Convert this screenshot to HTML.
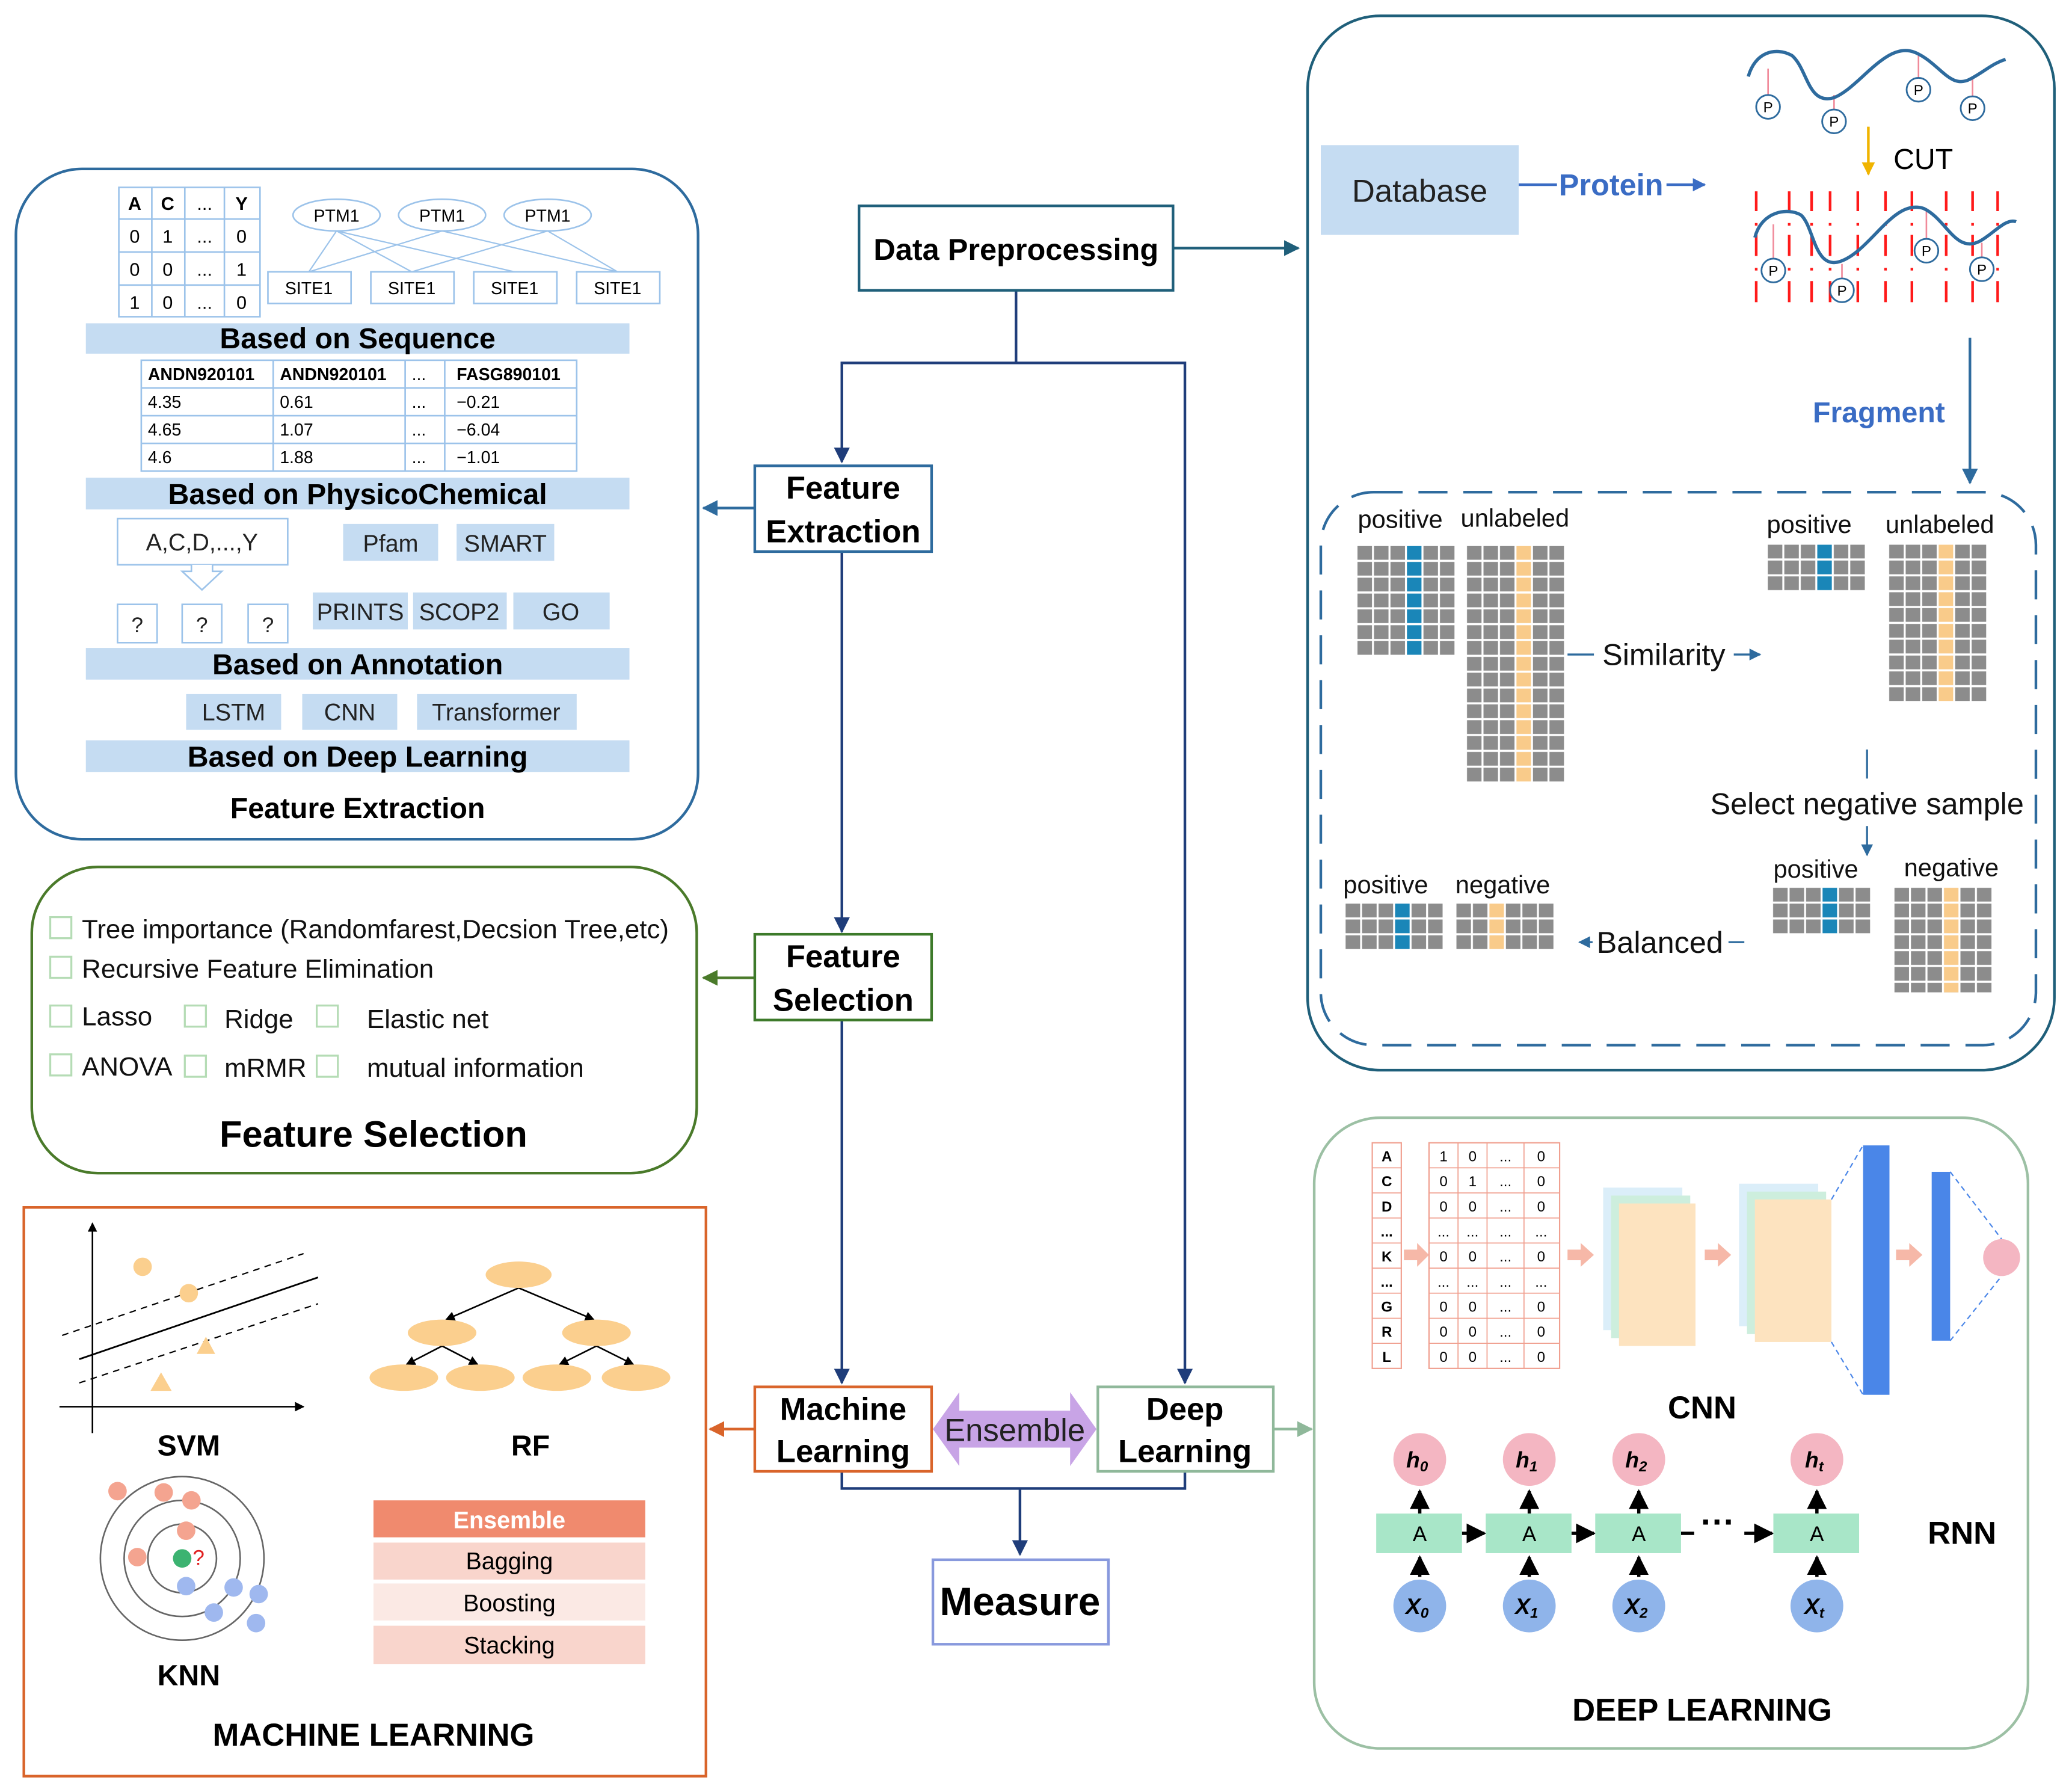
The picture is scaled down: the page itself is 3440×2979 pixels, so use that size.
<!DOCTYPE html>
<html><head><meta charset="utf-8"><style>
html,body{margin:0;padding:0;background:#fff}
svg{display:block}
text{font-family:"Liberation Sans",sans-serif}
</style></head><body>
<svg xmlns="http://www.w3.org/2000/svg" width="3440" height="2979" viewBox="0 0 1568 1358">
<defs>
<pattern id="gg" width="12.5" height="12" patternUnits="userSpaceOnUse"><rect width="12.5" height="12" fill="#fff"/><rect x="0.8" y="0.8" width="11" height="10.4" fill="#8c8c8c"/></pattern>
<pattern id="bb" width="12.5" height="12" patternUnits="userSpaceOnUse"><rect width="12.5" height="12" fill="#fff"/><rect x="0.8" y="0.8" width="11" height="10.4" fill="#1a86b8"/></pattern>
<pattern id="oo" width="12.5" height="12" patternUnits="userSpaceOnUse"><rect width="12.5" height="12" fill="#fff"/><rect x="0.8" y="0.8" width="11" height="10.4" fill="#f9cb8a"/></pattern>
<marker id="ab" viewBox="0 0 10 10" refX="9" refY="5" markerWidth="6" markerHeight="6" orient="auto"><path d="M0,0L10,5L0,10z" fill="#1f3d7a"/></marker>
<marker id="at" viewBox="0 0 10 10" refX="9" refY="5" markerWidth="6" markerHeight="6" orient="auto"><path d="M0,0L10,5L0,10z" fill="#1f5f7a"/></marker>
<marker id="abl" viewBox="0 0 10 10" refX="9" refY="5" markerWidth="6" markerHeight="6" orient="auto"><path d="M0,0L10,5L0,10z" fill="#2e6b9e"/></marker>
<marker id="agr" viewBox="0 0 10 10" refX="9" refY="5" markerWidth="6" markerHeight="6" orient="auto"><path d="M0,0L10,5L0,10z" fill="#4a7a2a"/></marker>
<marker id="aor" viewBox="0 0 10 10" refX="9" refY="5" markerWidth="6" markerHeight="6" orient="auto"><path d="M0,0L10,5L0,10z" fill="#d9642a"/></marker>
<marker id="agg" viewBox="0 0 10 10" refX="9" refY="5" markerWidth="6" markerHeight="6" orient="auto"><path d="M0,0L10,5L0,10z" fill="#8fb89a"/></marker>
<marker id="ak" viewBox="0 0 10 10" refX="9" refY="5" markerWidth="6" markerHeight="6" orient="auto"><path d="M0,0L10,5L0,10z" fill="#000"/></marker>
<marker id="ap" viewBox="0 0 10 10" refX="9" refY="5" markerWidth="5" markerHeight="5" orient="auto"><path d="M0,0L10,5L0,10z" fill="#3a6cc4"/></marker>
<marker id="ay" viewBox="0 0 10 10" refX="9" refY="5" markerWidth="5" markerHeight="5" orient="auto"><path d="M0,0L10,5L0,10z" fill="#f0b400"/></marker>
<g id="cl"><line x1="0" y1="145" x2="0" y2="160"/><line x1="0" y1="178" x2="0" y2="194"/><line x1="0" y1="213" x2="0" y2="229"/><line x1="0" y1="169" x2="0" y2="171"/><line x1="0" y1="203" x2="0" y2="205"/></g>
</defs>

<!-- ===== Feature Extraction panel ===== -->
<rect x="12" y="128" width="517" height="508" rx="50" fill="none" stroke="#2e6b9e" stroke-width="2"/>
<g stroke="#9cc3ea" stroke-width="1.2" fill="none">
<rect x="90" y="142" width="107" height="98"/>
<line x1="90" y1="166" x2="197" y2="166"/><line x1="90" y1="191" x2="197" y2="191"/><line x1="90" y1="216" x2="197" y2="216"/>
<line x1="115" y1="142" x2="115" y2="240"/><line x1="140" y1="142" x2="140" y2="240"/><line x1="170" y1="142" x2="170" y2="240"/>
</g>
<g font-size="14" text-anchor="middle">
<text x="102" y="159" font-weight="bold">A</text><text x="127" y="159" font-weight="bold">C</text><text x="155" y="159">...</text><text x="183" y="159" font-weight="bold">Y</text>
<text x="102" y="184">0</text><text x="127" y="184">1</text><text x="155" y="184">...</text><text x="183" y="184">0</text>
<text x="102" y="209">0</text><text x="127" y="209">0</text><text x="155" y="209">...</text><text x="183" y="209">1</text>
<text x="102" y="234">1</text><text x="127" y="234">0</text><text x="155" y="234">...</text><text x="183" y="234">0</text>
</g>
<g stroke="#9cc3ea" stroke-width="1">
<line x1="255" y1="175" x2="234" y2="206"/><line x1="255" y1="175" x2="312" y2="206"/><line x1="255" y1="175" x2="390" y2="206"/>
<line x1="335" y1="175" x2="234" y2="206"/><line x1="335" y1="175" x2="468" y2="206"/>
<line x1="415" y1="175" x2="312" y2="206"/><line x1="415" y1="175" x2="468" y2="206"/>
</g>
<g fill="#fff" stroke="#9cc3ea" stroke-width="1.2">
<ellipse cx="255" cy="163" rx="33" ry="12"/><ellipse cx="335" cy="163" rx="33" ry="12"/><ellipse cx="415" cy="163" rx="33" ry="12"/>
<rect x="203" y="206" width="63" height="24"/><rect x="281" y="206" width="63" height="24"/><rect x="359" y="206" width="63" height="24"/><rect x="437" y="206" width="63" height="24"/>
</g>
<g font-size="13" text-anchor="middle">
<text x="255" y="168">PTM1</text><text x="335" y="168">PTM1</text><text x="415" y="168">PTM1</text>
<text x="234" y="223">SITE1</text><text x="312" y="223">SITE1</text><text x="390" y="223">SITE1</text><text x="468" y="223">SITE1</text>
</g>
<g fill="#c5dcf2">
<rect x="65" y="245" width="412" height="23"/><rect x="65" y="362" width="412" height="24"/><rect x="65" y="491" width="412" height="24"/><rect x="65" y="561" width="412" height="24"/>
</g>
<g font-size="22" font-weight="bold" text-anchor="middle">
<text x="271" y="264">Based on Sequence</text><text x="271" y="382">Based on PhysicoChemical</text>
<text x="271" y="511">Based on Annotation</text><text x="271" y="581">Based on Deep Learning</text>
<text x="271" y="620">Feature Extraction</text>
</g>
<g stroke="#9cc3ea" stroke-width="1.2" fill="none">
<rect x="107" y="273" width="330" height="84"/>
<line x1="107" y1="294" x2="437" y2="294"/><line x1="107" y1="315" x2="437" y2="315"/><line x1="107" y1="336" x2="437" y2="336"/>
<line x1="207" y1="273" x2="207" y2="357"/><line x1="307" y1="273" x2="307" y2="357"/><line x1="337" y1="273" x2="337" y2="357"/>
</g>
<g font-size="13">
<text x="112" y="288" font-weight="bold">ANDN920101</text><text x="212" y="288" font-weight="bold">ANDN920101</text><text x="312" y="288">...</text><text x="346" y="288" font-weight="bold">FASG890101</text>
<text x="112" y="309">4.35</text><text x="212" y="309">0.61</text><text x="312" y="309">...</text><text x="346" y="309">−0.21</text>
<text x="112" y="330">4.65</text><text x="212" y="330">1.07</text><text x="312" y="330">...</text><text x="346" y="330">−6.04</text>
<text x="112" y="351">4.6</text><text x="212" y="351">1.88</text><text x="312" y="351">...</text><text x="346" y="351">−1.01</text>
</g>
<rect x="89" y="393" width="129" height="35" fill="#fff" stroke="#9cc3ea" stroke-width="1.2"/>
<path d="M145,428 L145,433 L138,433 L153,447 L168,433 L161,433 L161,428" fill="#fff" stroke="#9cc3ea" stroke-width="1.2"/>
<g fill="#fff" stroke="#9cc3ea" stroke-width="1.2">
<rect x="89" y="458" width="30" height="29"/><rect x="138" y="458" width="30" height="29"/><rect x="188" y="458" width="30" height="29"/>
</g>
<g fill="#c5dcf2">
<rect x="260" y="397" width="72" height="28"/><rect x="346" y="397" width="74" height="28"/>
<rect x="237" y="449" width="72" height="28"/><rect x="313" y="449" width="71" height="28"/><rect x="389" y="449" width="73" height="28"/>
<rect x="141" y="526" width="72" height="27"/><rect x="229" y="526" width="72" height="27"/><rect x="316" y="526" width="121" height="27"/>
</g>
<g font-size="18" text-anchor="middle" fill="#222">
<text x="153" y="417">A,C,D,...,Y</text><text x="296" y="418">Pfam</text><text x="383" y="418">SMART</text>
<text x="104" y="479" font-size="16">?</text><text x="153" y="479" font-size="16">?</text><text x="203" y="479" font-size="16">?</text>
<text x="273" y="470">PRINTS</text><text x="348" y="470">SCOP2</text><text x="425" y="470">GO</text>
<text x="177" y="546">LSTM</text><text x="265" y="546">CNN</text><text x="376" y="546">Transformer</text>
</g>

<!-- ===== Feature Selection panel ===== -->
<rect x="24" y="657" width="504" height="232" rx="50" fill="none" stroke="#4a7a2a" stroke-width="2"/>
<g fill="none" stroke="#b5dcb5" stroke-width="1.5">
<rect x="38" y="695" width="16" height="16"/><rect x="38" y="725" width="16" height="16"/>
<rect x="38" y="762" width="16" height="16"/><rect x="140" y="762" width="16" height="16"/><rect x="240" y="762" width="16" height="16"/>
<rect x="38" y="799" width="16" height="16"/><rect x="140" y="800" width="16" height="16"/><rect x="240" y="800" width="16" height="16"/>
</g>
<g font-size="20" fill="#111">
<text x="62" y="711">Tree importance (Randomfarest,Decsion Tree,etc)</text>
<text x="62" y="741">Recursive Feature Elimination</text>
<text x="62" y="777">Lasso</text><text x="170" y="779">Ridge</text><text x="278" y="779">Elastic net</text>
<text x="62" y="815">ANOVA</text><text x="170" y="816">mRMR</text><text x="278" y="816">mutual information</text>
</g>
<text x="283" y="869" font-size="28" font-weight="bold" text-anchor="middle">Feature Selection</text>

<!-- ===== Machine Learning panel ===== -->
<rect x="18" y="915" width="517" height="431" fill="none" stroke="#d9642a" stroke-width="2"/>
<line x1="70" y1="1086" x2="70" y2="927" stroke="#000" stroke-width="1.2" marker-end="url(#ak)"/>
<line x1="45" y1="1066" x2="230" y2="1066" stroke="#000" stroke-width="1.2" marker-end="url(#ak)"/>
<line x1="60" y1="1030" x2="241" y2="968" stroke="#000" stroke-width="1.3"/>
<line x1="47" y1="1012" x2="230" y2="950" stroke="#000" stroke-width="1" stroke-dasharray="5,4"/>
<line x1="60" y1="1048" x2="241" y2="988" stroke="#000" stroke-width="1" stroke-dasharray="5,4"/>
<circle cx="108" cy="960" r="7" fill="#fbcf8e"/><circle cx="143" cy="980" r="7" fill="#fbcf8e"/>
<path d="M156,1013 L163,1026 L149,1026z" fill="#fbcf8e"/><path d="M122,1040 L130,1054 L114,1054z" fill="#fbcf8e"/>
<text x="143" y="1103" font-size="22" font-weight="bold" text-anchor="middle">SVM</text>
<g stroke="#000" stroke-width="1.2" marker-end="url(#ak)">
<line x1="393" y1="976" x2="338" y2="1000"/><line x1="393" y1="976" x2="450" y2="1000"/>
<line x1="335" y1="1020" x2="308" y2="1034"/><line x1="335" y1="1020" x2="362" y2="1034"/>
<line x1="452" y1="1020" x2="424" y2="1034"/><line x1="452" y1="1020" x2="480" y2="1034"/>
</g>
<g fill="#fbcf8e">
<ellipse cx="393" cy="966" rx="25" ry="10"/><ellipse cx="335" cy="1010" rx="26" ry="10"/><ellipse cx="452" cy="1010" rx="26" ry="10"/>
<ellipse cx="306" cy="1044" rx="26" ry="10"/><ellipse cx="364" cy="1044" rx="26" ry="10"/><ellipse cx="422" cy="1044" rx="26" ry="10"/><ellipse cx="482" cy="1044" rx="26" ry="10"/>
</g>
<text x="402" y="1103" font-size="22" font-weight="bold" text-anchor="middle">RF</text>
<g fill="none" stroke="#666" stroke-width="1.2">
<circle cx="138" cy="1181" r="26"/><circle cx="138" cy="1181" r="44"/><circle cx="138" cy="1181" r="62"/>
</g>
<g fill="#f4a490"><circle cx="89" cy="1130" r="7"/><circle cx="124" cy="1131" r="7"/><circle cx="145" cy="1137" r="7"/><circle cx="104" cy="1180" r="7"/><circle cx="141" cy="1160" r="7"/></g>
<g fill="#9fb8ef"><circle cx="141" cy="1202" r="7"/><circle cx="162" cy="1222" r="7"/><circle cx="177" cy="1203" r="7"/><circle cx="196" cy="1208" r="7"/><circle cx="194" cy="1230" r="7"/></g>
<circle cx="138" cy="1181" r="7" fill="#3cb371"/>
<text x="146" y="1186" font-size="16" fill="#e02020">?</text>
<text x="143" y="1277" font-size="22" font-weight="bold" text-anchor="middle">KNN</text>
<rect x="283" y="1137" width="206" height="28" fill="#f08a6e"/>
<rect x="283" y="1169" width="206" height="28" fill="#f9d5cc"/>
<rect x="283" y="1200" width="206" height="28" fill="#fbe9e4"/>
<rect x="283" y="1232" width="206" height="29" fill="#f9d5cc"/>
<g font-size="18" text-anchor="middle">
<text x="386" y="1158" fill="#fff" font-weight="bold">Ensemble</text>
<text x="386" y="1189">Bagging</text><text x="386" y="1221">Boosting</text><text x="386" y="1253">Stacking</text>
</g>
<text x="283" y="1323" font-size="24" font-weight="bold" text-anchor="middle">MACHINE LEARNING</text>

<!-- ===== Central flow ===== -->
<g fill="none" stroke="#1f3d7a" stroke-width="2">
<polyline points="770,220 770,275 638,275 638,350" marker-end="url(#ab)"/>
<polyline points="770,275 898,275 898,1048" marker-end="url(#ab)"/>
<line x1="638" y1="418" x2="638" y2="706" marker-end="url(#ab)"/>
<line x1="638" y1="773" x2="638" y2="1048" marker-end="url(#ab)"/>
<polyline points="638,1115 638,1128 898,1128 898,1115"/>
<line x1="773" y1="1128" x2="773" y2="1178" marker-end="url(#ab)"/>
</g>
<line x1="889" y1="188" x2="984" y2="188" stroke="#1f5f7a" stroke-width="2" marker-end="url(#at)"/>
<line x1="572" y1="385" x2="533" y2="385" stroke="#2e6b9e" stroke-width="2" marker-end="url(#abl)"/>
<line x1="572" y1="741" x2="533" y2="741" stroke="#4a7a2a" stroke-width="2" marker-end="url(#agr)"/>
<line x1="572" y1="1083" x2="538" y2="1083" stroke="#d9642a" stroke-width="2" marker-end="url(#aor)"/>
<line x1="965" y1="1083" x2="994" y2="1083" stroke="#8fb89a" stroke-width="2" marker-end="url(#agg)"/>
<rect x="651" y="156" width="238" height="64" fill="#fff" stroke="#1f5f7a" stroke-width="2"/>
<rect x="572" y="353" width="134" height="65" fill="#fff" stroke="#2e6b9e" stroke-width="2"/>
<rect x="572" y="708" width="134" height="65" fill="#fff" stroke="#3d7a2a" stroke-width="2"/>
<rect x="572" y="1051" width="134" height="64" fill="#fff" stroke="#d9642a" stroke-width="2"/>
<rect x="832" y="1051" width="133" height="64" fill="#fff" stroke="#8fb89a" stroke-width="2"/>
<rect x="707" y="1182" width="133" height="64" fill="#fff" stroke="#8899dd" stroke-width="2"/>
<path d="M707,1083 L727,1055 L727,1069 L811,1069 L811,1055 L831,1083 L811,1111 L811,1097 L727,1097 L727,1111z" fill="#c8a4e6"/>
<g font-size="24" font-weight="bold" text-anchor="middle">
<text x="770" y="197" font-size="23">Data Preprocessing</text>
<text x="639" y="378">Feature</text><text x="639" y="411">Extraction</text>
<text x="639" y="733">Feature</text><text x="639" y="766">Selection</text>
<text x="639" y="1076">Machine</text><text x="639" y="1108">Learning</text>
<text x="898" y="1076">Deep</text><text x="898" y="1108">Learning</text>
<text x="773" y="1224" font-size="30">Measure</text>
</g>
<text x="769" y="1092" font-size="24" text-anchor="middle" fill="#222">Ensemble</text>

<!-- ===== Data Preprocessing panel ===== -->
<rect x="991" y="12" width="566" height="799" rx="55" fill="none" stroke="#1f5f7a" stroke-width="2"/>
<rect x="1001" y="110" width="150" height="68" fill="#c5dcf2"/>
<text x="1076" y="153" font-size="24" text-anchor="middle" fill="#222">Database</text>
<line x1="1151" y1="140" x2="1180" y2="140" stroke="#3a6cc4" stroke-width="2"/>
<text x="1221" y="148" font-size="23" font-weight="bold" fill="#3a6cc4" text-anchor="middle">Protein</text>
<line x1="1263" y1="140" x2="1292" y2="140" stroke="#3a6cc4" stroke-width="2" marker-end="url(#ap)"/>
<g stroke="#f08a9a" stroke-width="1.2">
<line x1="1340" y1="52" x2="1340" y2="73"/><line x1="1390" y1="72" x2="1390" y2="84"/><line x1="1454" y1="40" x2="1454" y2="60"/><line x1="1495" y1="60" x2="1495" y2="74"/>
</g>
<path d="M1325,58 C1330,40 1345,35 1358,42 C1370,52 1370,80 1390,74 C1410,66 1430,30 1452,40 C1470,48 1478,68 1493,60 C1503,55 1510,48 1520,45" fill="none" stroke="#2e6b9e" stroke-width="2.5"/>
<g fill="#fff" stroke="#2e6b9e" stroke-width="1.3">
<circle cx="1340" cy="81" r="9"/><circle cx="1390" cy="92" r="9"/><circle cx="1454" cy="68" r="9"/><circle cx="1495" cy="82" r="9"/>
</g>
<g font-size="11" text-anchor="middle"><text x="1340" y="85">P</text><text x="1390" y="96">P</text><text x="1454" y="72">P</text><text x="1495" y="86">P</text></g>
<line x1="1416" y1="96" x2="1416" y2="132" stroke="#f0b400" stroke-width="2" marker-end="url(#ay)"/>
<text x="1435" y="128" font-size="22">CUT</text>
<g stroke="#ff1a1a" stroke-width="2">
<use href="#cl" x="1331"/><use href="#cl" x="1356"/><use href="#cl" x="1373"/><use href="#cl" x="1387"/><use href="#cl" x="1408"/><use href="#cl" x="1429"/><use href="#cl" x="1449"/><use href="#cl" x="1475"/><use href="#cl" x="1495"/><use href="#cl" x="1514"/>
</g>
<g stroke="#f08a9a" stroke-width="1.2">
<line x1="1344" y1="170" x2="1344" y2="196"/><line x1="1396" y1="200" x2="1396" y2="212"/><line x1="1460" y1="160" x2="1460" y2="181"/><line x1="1502" y1="184" x2="1502" y2="196"/>
</g>
<path d="M1330,180 C1335,160 1355,157 1365,163 C1375,172 1375,205 1395,198 C1418,190 1435,150 1458,158 C1475,166 1482,192 1500,183 C1510,178 1520,165 1528,168" fill="none" stroke="#2e6b9e" stroke-width="2.5"/>
<g fill="#fff" stroke="#2e6b9e" stroke-width="1.3">
<circle cx="1344" cy="205" r="9"/><circle cx="1396" cy="220" r="9"/><circle cx="1460" cy="190" r="9"/><circle cx="1502" cy="204" r="9"/>
</g>
<g font-size="11" text-anchor="middle"><text x="1344" y="209">P</text><text x="1396" y="224">P</text><text x="1460" y="194">P</text><text x="1502" y="208">P</text></g>
<line x1="1493" y1="256" x2="1493" y2="366" stroke="#2e6b9e" stroke-width="2" marker-end="url(#abl)"/>
<text x="1424" y="320" font-size="22" font-weight="bold" fill="#3a6cc4" text-anchor="middle">Fragment</text>
<rect x="1001" y="373" width="542" height="419" rx="40" fill="none" stroke="#2e6b9e" stroke-width="2" stroke-dasharray="22,12"/>
<g font-size="19" fill="#111">
<text x="1029" y="400">positive</text><text x="1107" y="399">unlabeled</text>
<text x="1339" y="404">positive</text><text x="1429" y="404">unlabeled</text>
<text x="1018" y="677">positive</text><text x="1103" y="677">negative</text>
<text x="1344" y="665">positive</text><text x="1443" y="664">negative</text>
</g>
<g transform="translate(1028,413)"><rect width="75" height="84" fill="url(#gg)"/><rect x="37.5" width="12.5" height="84" fill="url(#bb)"/></g>
<g transform="translate(1111,413)"><rect width="75" height="180" fill="url(#gg)"/><rect x="37.5" width="12.5" height="180" fill="url(#oo)"/></g>
<g transform="translate(1339,412)"><rect width="75" height="36" fill="url(#gg)"/><rect x="37.5" width="12.5" height="36" fill="url(#bb)"/></g>
<g transform="translate(1431,412)"><rect width="75" height="120" fill="url(#gg)"/><rect x="37.5" width="12.5" height="120" fill="url(#oo)"/></g>
<g transform="translate(1343,672)"><rect width="75" height="36" fill="url(#gg)"/><rect x="37.5" width="12.5" height="36" fill="url(#bb)"/></g>
<g transform="translate(1435,672)"><rect width="75" height="80" fill="url(#gg)"/><rect x="37.5" width="12.5" height="80" fill="url(#oo)"/></g>
<g transform="translate(1019,684)"><rect width="75" height="36" fill="url(#gg)"/><rect x="37.5" width="12.5" height="36" fill="url(#bb)"/></g>
<g transform="translate(1103,684)"><rect width="75" height="36" fill="url(#gg)"/><rect x="25" width="12.5" height="36" fill="url(#oo)"/></g>
<line x1="1188" y1="496" x2="1208" y2="496" stroke="#2e6b9e" stroke-width="1.5"/>
<text x="1261" y="504" font-size="23" text-anchor="middle" fill="#111">Similarity</text>
<line x1="1314" y1="496" x2="1334" y2="496" stroke="#2e6b9e" stroke-width="1.5" marker-end="url(#abl)"/>
<line x1="1415" y1="568" x2="1415" y2="590" stroke="#2e6b9e" stroke-width="1.5"/>
<text x="1415" y="617" font-size="23" text-anchor="middle" fill="#111">Select negative sample</text>
<line x1="1415" y1="626" x2="1415" y2="648" stroke="#2e6b9e" stroke-width="1.5" marker-end="url(#abl)"/>
<line x1="1322" y1="714" x2="1310" y2="714" stroke="#2e6b9e" stroke-width="1.5"/>
<text x="1258" y="722" font-size="23" text-anchor="middle" fill="#111">Balanced</text>
<line x1="1207" y1="714" x2="1197" y2="714" stroke="#2e6b9e" stroke-width="1.5" marker-end="url(#abl)"/>

<!-- ===== Deep Learning panel ===== -->
<rect x="996" y="847" width="541" height="478" rx="50" fill="none" stroke="#9cc0a4" stroke-width="2"/>
<g stroke="#f0a090" stroke-width="1" fill="none">
<rect x="1040" y="866" width="22" height="171"/>
<rect x="1083" y="866" width="99" height="171"/>
</g>
<g stroke="#f0a090" stroke-width="0.8">
<line x1="1040" y1="885" x2="1062" y2="885"/><line x1="1040" y1="904" x2="1062" y2="904"/><line x1="1040" y1="923" x2="1062" y2="923"/><line x1="1040" y1="942" x2="1062" y2="942"/><line x1="1040" y1="961" x2="1062" y2="961"/><line x1="1040" y1="980" x2="1062" y2="980"/><line x1="1040" y1="999" x2="1062" y2="999"/><line x1="1040" y1="1018" x2="1062" y2="1018"/>
<line x1="1083" y1="885" x2="1182" y2="885"/><line x1="1083" y1="904" x2="1182" y2="904"/><line x1="1083" y1="923" x2="1182" y2="923"/><line x1="1083" y1="942" x2="1182" y2="942"/><line x1="1083" y1="961" x2="1182" y2="961"/><line x1="1083" y1="980" x2="1182" y2="980"/><line x1="1083" y1="999" x2="1182" y2="999"/><line x1="1083" y1="1018" x2="1182" y2="1018"/>
<line x1="1105" y1="866" x2="1105" y2="1037"/><line x1="1127" y1="866" x2="1127" y2="1037"/><line x1="1155" y1="866" x2="1155" y2="1037"/>
</g>
<g font-size="11" font-weight="bold" text-anchor="middle">
<text x="1051" y="880">A</text><text x="1051" y="899">C</text><text x="1051" y="918">D</text><text x="1051" y="937">...</text><text x="1051" y="956">K</text><text x="1051" y="975">...</text><text x="1051" y="994">G</text><text x="1051" y="1013">R</text><text x="1051" y="1032">L</text>
</g>
<g font-size="11" text-anchor="middle">
<text x="1094" y="880">1</text><text x="1116" y="880">0</text><text x="1141" y="880">...</text><text x="1168" y="880">0</text>
<text x="1094" y="899">0</text><text x="1116" y="899">1</text><text x="1141" y="899">...</text><text x="1168" y="899">0</text>
<text x="1094" y="918">0</text><text x="1116" y="918">0</text><text x="1141" y="918">...</text><text x="1168" y="918">0</text>
<text x="1094" y="937">...</text><text x="1116" y="937">...</text><text x="1141" y="937">...</text><text x="1168" y="937">...</text>
<text x="1094" y="956">0</text><text x="1116" y="956">0</text><text x="1141" y="956">...</text><text x="1168" y="956">0</text>
<text x="1094" y="975">...</text><text x="1116" y="975">...</text><text x="1141" y="975">...</text><text x="1168" y="975">...</text>
<text x="1094" y="994">0</text><text x="1116" y="994">0</text><text x="1141" y="994">...</text><text x="1168" y="994">0</text>
<text x="1094" y="1013">0</text><text x="1116" y="1013">0</text><text x="1141" y="1013">...</text><text x="1168" y="1013">0</text>
<text x="1094" y="1032">0</text><text x="1116" y="1032">0</text><text x="1141" y="1032">...</text><text x="1168" y="1032">0</text>
</g>
<g fill="#f6b8a8">
<path d="M1064,947 L1074,947 L1074,942 L1083,951 L1074,960 L1074,955 L1064,955z"/>
<path d="M1188,947 L1198,947 L1198,942 L1208,951 L1198,960 L1198,955 L1188,955z"/>
<path d="M1292,947 L1302,947 L1302,942 L1312,951 L1302,960 L1302,955 L1292,955z"/>
<path d="M1437,947 L1447,947 L1447,942 L1457,951 L1447,960 L1447,955 L1437,955z"/>
</g>
<rect x="1215" y="900" width="60" height="108" fill="#dbeef9"/>
<rect x="1221" y="906" width="60" height="108" fill="#cdeedd"/>
<rect x="1227" y="912" width="58" height="108" fill="#fde3bf"/>
<rect x="1318" y="897" width="60" height="108" fill="#dbeef9"/>
<rect x="1324" y="903" width="60" height="108" fill="#cdeedd"/>
<rect x="1330" y="909" width="58" height="108" fill="#fde3bf"/>
<g stroke="#4a86e8" stroke-width="1" stroke-dasharray="4,3" fill="none">
<line x1="1388" y1="909" x2="1412" y2="868"/><line x1="1388" y1="1017" x2="1412" y2="1057"/>
<line x1="1478" y1="888" x2="1517" y2="939"/><line x1="1478" y1="1016" x2="1517" y2="967"/>
</g>
<rect x="1412" y="868" width="20" height="189" fill="#4a86e8"/>
<rect x="1464" y="888" width="14" height="128" fill="#4a86e8"/>
<circle cx="1517" cy="953" r="14" fill="#f4b6c2"/>
<text x="1290" y="1075" font-size="24" font-weight="bold" text-anchor="middle">CNN</text>
<g stroke="#000" stroke-width="2.5" marker-end="url(#ak)">
<line x1="1076" y1="1195" x2="1076" y2="1180"/><line x1="1159" y1="1195" x2="1159" y2="1180"/><line x1="1242" y1="1195" x2="1242" y2="1180"/><line x1="1377" y1="1195" x2="1377" y2="1180"/>
<line x1="1076" y1="1147" x2="1076" y2="1130"/><line x1="1159" y1="1147" x2="1159" y2="1130"/><line x1="1242" y1="1147" x2="1242" y2="1130"/><line x1="1377" y1="1147" x2="1377" y2="1130"/>
<line x1="1108" y1="1162" x2="1125" y2="1162"/><line x1="1191" y1="1162" x2="1208" y2="1162"/><line x1="1322" y1="1162" x2="1343" y2="1162"/>
</g>
<line x1="1274" y1="1162" x2="1284" y2="1162" stroke="#000" stroke-width="2.5"/>
<text x="1302" y="1162" font-size="26" font-weight="bold" text-anchor="middle">···</text>
<g fill="#a8e6c8">
<rect x="1043" y="1147" width="65" height="30"/><rect x="1126" y="1147" width="65" height="30"/><rect x="1209" y="1147" width="65" height="30"/><rect x="1344" y="1147" width="65" height="30"/>
</g>
<g font-size="16" text-anchor="middle"><text x="1076" y="1168">A</text><text x="1159" y="1168">A</text><text x="1242" y="1168">A</text><text x="1377" y="1168">A</text></g>
<g fill="#f4b6c2"><circle cx="1076" cy="1106" r="20"/><circle cx="1159" cy="1106" r="20"/><circle cx="1242" cy="1106" r="20"/><circle cx="1377" cy="1106" r="20"/></g>
<g fill="#8fb4ea"><circle cx="1076" cy="1217" r="20"/><circle cx="1159" cy="1217" r="20"/><circle cx="1242" cy="1217" r="20"/><circle cx="1377" cy="1217" r="20"/></g>
<g font-style="italic" font-weight="bold" font-size="17" text-anchor="middle">
<text x="1074" y="1112" font-family="Liberation Serif,serif">h<tspan font-size="11" dy="3">0</tspan></text>
<text x="1157" y="1112" font-family="Liberation Serif,serif">h<tspan font-size="11" dy="3">1</tspan></text>
<text x="1240" y="1112" font-family="Liberation Serif,serif">h<tspan font-size="11" dy="3">2</tspan></text>
<text x="1375" y="1112" font-family="Liberation Serif,serif">h<tspan font-size="11" dy="3">t</tspan></text>
<text x="1074" y="1223" font-family="Liberation Serif,serif">X<tspan font-size="11" dy="3">0</tspan></text>
<text x="1157" y="1223" font-family="Liberation Serif,serif">X<tspan font-size="11" dy="3">1</tspan></text>
<text x="1240" y="1223" font-family="Liberation Serif,serif">X<tspan font-size="11" dy="3">2</tspan></text>
<text x="1375" y="1223" font-family="Liberation Serif,serif">X<tspan font-size="11" dy="3">t</tspan></text>
</g>
<text x="1487" y="1170" font-size="24" font-weight="bold" text-anchor="middle">RNN</text>
<text x="1290" y="1304" font-size="24" font-weight="bold" text-anchor="middle">DEEP LEARNING</text>
</svg>
</body></html>
